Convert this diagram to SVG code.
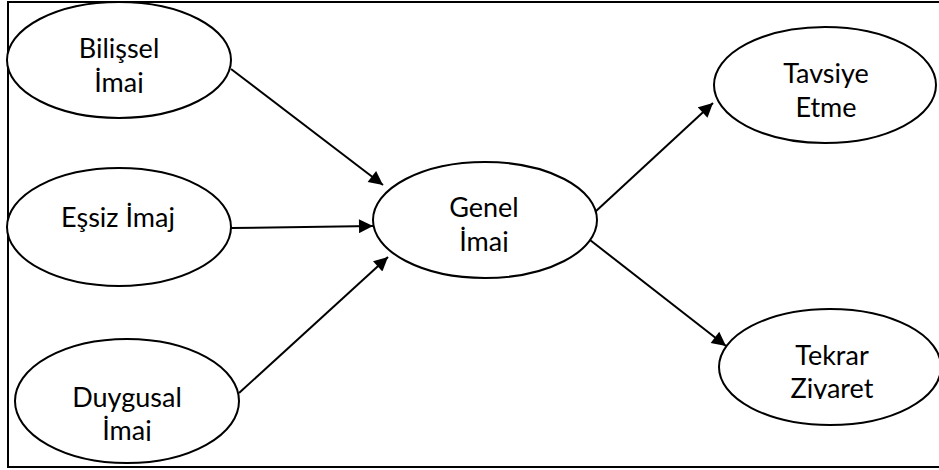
<svg xmlns="http://www.w3.org/2000/svg" width="939" height="470" viewBox="0 0 939 470">
<defs>
<style>
.frame{fill:none;stroke:#000;stroke-width:2}
.node ellipse{fill:#fff;stroke:#000;stroke-width:2}
.node text{font-family:"Lato","Liberation Sans",sans-serif;font-size:27px;fill:#000;text-anchor:middle}
.edge{stroke:#000;stroke-width:2;fill:none;marker-end:url(#arr)}
</style>
<marker id="arr" viewBox="0 0 10 10" refX="10" refY="5" markerWidth="8" markerHeight="7" markerUnits="strokeWidth" orient="auto">
<path d="M0,0 L10,5 L0,10 z" fill="#000"/>
</marker>
<clipPath id="c1"><rect x="0" y="0" width="939" height="93"/></clipPath>
<clipPath id="c3"><rect x="0" y="300" width="939" height="141"/></clipPath>
<clipPath id="c4"><rect x="0" y="150" width="939" height="102"/></clipPath>
<clipPath id="c5"><rect x="0" y="0" width="939" height="118"/></clipPath>
<clipPath id="c6"><rect x="0" y="300" width="939" height="99"/></clipPath>
</defs>
<rect class="frame" x="8" y="2" width="940" height="465"/>
<g id="connectors">
<line class="edge" x1="231" y1="69" x2="383" y2="185"/>
<line class="edge" x1="231" y1="228" x2="373" y2="226"/>
<line class="edge" x1="239" y1="393" x2="388" y2="257"/>
<line class="edge" x1="595" y1="212" x2="713" y2="103"/>
<line class="edge" x1="590" y1="240" x2="726" y2="346"/>
</g>
<g id="bilissel" class="node">
<ellipse cx="119" cy="60" rx="112" ry="58"/>
<g clip-path="url(#c1)"><text x="119" y="58">Bilişsel</text><text x="119" y="92">İmaj</text></g>
</g>
<g id="essiz" class="node">
<ellipse cx="119" cy="227" rx="112" ry="59"/>
<text x="118" y="227">Eşsiz İmaj</text>
</g>
<g id="duygusal" class="node">
<ellipse cx="127" cy="401" rx="112" ry="62"/>
<g clip-path="url(#c3)"><text x="127" y="407">Duygusal</text><text x="127" y="440">İmaj</text></g>
</g>
<g id="genel" class="node">
<ellipse cx="485" cy="220" rx="112" ry="58"/>
<g clip-path="url(#c4)"><text x="484" y="217">Genel</text><text x="484" y="251">İmaj</text></g>
</g>
<g id="tavsiye" class="node">
<ellipse cx="825" cy="85" rx="111" ry="58"/>
<g clip-path="url(#c5)"><text x="826" y="83">Tavsiye</text><text x="826" y="117">Etme</text></g>
</g>
<g id="tekrar" class="node">
<ellipse cx="830" cy="367" rx="111" ry="58"/>
<g clip-path="url(#c6)"><text x="832" y="365">Tekrar</text><text x="832" y="398">Ziyaret</text></g>
</g>
</svg>
